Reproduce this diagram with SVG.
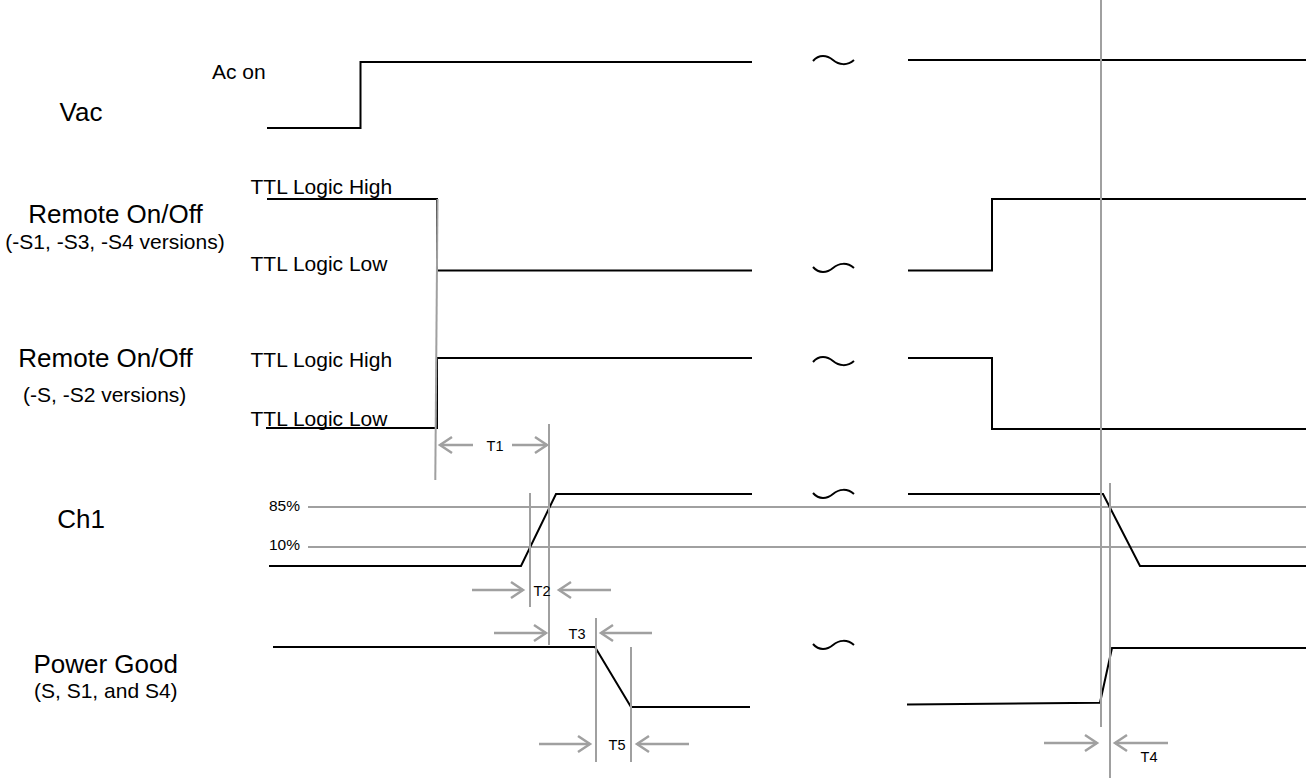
<svg xmlns="http://www.w3.org/2000/svg" width="1311" height="780" viewBox="0 0 1311 780">
  <style>
    .sig { fill: none; stroke: #000; stroke-width: 2; stroke-linejoin: miter; }
    .tl { fill: none; stroke: #000; stroke-width: 2; }
    .g { fill: none; stroke: #a0a0a0; stroke-width: 2; }
    .arr { fill: none; stroke: #a0a0a0; stroke-width: 2.5; marker-end: url(#ah); }
    text { font-family: "Liberation Sans", Arial, sans-serif; fill: #000; }
    .big { font-size: 26px; text-anchor: middle; }
    .sub { font-size: 21px; text-anchor: middle; }
    .lvl { font-size: 21px; }
    .pct { font-size: 15.5px; }
    .t { font-size: 14.5px; text-anchor: middle; }
  </style>
  <defs>
    <marker id="ah" markerUnits="userSpaceOnUse" markerWidth="16" markerHeight="20" viewBox="0 0 16 20" refX="13" refY="10" orient="auto">
      <path d="M1,2 L13,10 L1,18" fill="none" stroke="#a0a0a0" stroke-width="2.5"/>
    </marker>
    <path id="tu" d="M0,0 C6,-7 14,-6 20,-1 C26,4 34,5 41,-1"/>
    <path id="td" d="M0,0 C6,7 14,6 20,1 C26,-4 34,-5 41,1"/>
  </defs>
  <rect width="1311" height="780" fill="#fff"/>

  <!-- Vac -->
  <g id="vac">
    <text class="big" x="81" y="121">Vac</text>
    <text class="lvl" x="212" y="79">Ac on</text>
    <path class="sig" d="M267,128 H360.5 V62 H752"/>
    <use href="#tu" class="tl" x="813" y="61"/>
    <path class="sig" d="M908,60 H1306"/>
  </g>

  <!-- Remote On/Off (-S1, -S3, -S4) -->
  <g id="remote1">
    <text class="big" x="115.5" y="223">Remote On/Off</text>
    <text class="sub" x="115" y="249">(-S1, -S3, -S4 versions)</text>
    <text class="lvl" x="250.5" y="194">TTL Logic High</text>
    <text class="lvl" x="250.5" y="271">TTL Logic Low</text>
    <path class="sig" d="M267,199 H437 V270.5 H752"/>
    <use href="#td" class="tl" x="813" y="267"/>
    <path class="sig" d="M908,270.5 H992 V199 H1306"/>
  </g>

  <!-- Remote On/Off (-S, -S2) -->
  <g id="remote2">
    <text class="big" x="105.5" y="367">Remote On/Off</text>
    <text class="sub" x="104.7" y="401.5">(-S, -S2 versions)</text>
    <text class="lvl" x="250.5" y="367">TTL Logic High</text>
    <text class="lvl" x="250.5" y="426">TTL Logic Low</text>
    <path class="sig" d="M266,428 H437 V358 H752"/>
    <use href="#tu" class="tl" x="813" y="362"/>
    <path class="sig" d="M908,358 H992 V429 H1306"/>
  </g>

  <!-- Ch1 -->
  <g id="ch1">
    <text class="big" x="81" y="528">Ch1</text>
    <text class="pct" x="269" y="511">85%</text>
    <text class="pct" x="269" y="550">10%</text>
    <path class="g" d="M308,507 H1306"/>
    <path class="g" d="M308,547 H1306"/>
    <path class="sig" d="M269,566 H521 L556,494 H752"/>
    <use href="#td" class="tl" x="813" y="493"/>
    <path class="sig" d="M908,494 H1103 L1140,566 H1306"/>
  </g>

  <!-- Power Good -->
  <g id="power-good">
    <text class="big" x="105.7" y="673">Power Good</text>
    <text class="sub" x="105.8" y="698">(S, S1, and S4)</text>
    <path class="sig" d="M273,647 H595 L631,707 H750"/>
    <use href="#td" class="tl" x="813" y="644"/>
    <path class="sig" d="M907,704.5 L1100,702.7 L1112,648 H1306"/>
  </g>

  <!-- Timing markers and arrows -->
  <g id="connectors">
    <path class="g" d="M437.5,199 L435.3,480"/>
    <path class="g" d="M549,424 V645"/>
    <path class="g" d="M530,493 V607"/>
    <path class="g" d="M596,618 V762"/>
    <path class="g" d="M631,647 V762"/>
    <path class="g" d="M1101,0 V727"/>
    <path class="g" d="M1110,483 V778"/>

    <path class="arr" d="M473,445 H440"/>
    <path class="arr" d="M512,445 H547"/>
    <text class="t" x="495" y="451">T1</text>

    <path class="arr" d="M472,590 H523"/>
    <path class="arr" d="M611,590 H559"/>
    <text class="t" x="542" y="596">T2</text>

    <path class="arr" d="M494,633 H546"/>
    <path class="arr" d="M652,633 H601"/>
    <text class="t" x="577" y="639">T3</text>

    <path class="arr" d="M539,744 H590"/>
    <path class="arr" d="M689,744 H637"/>
    <text class="t" x="617" y="750">T5</text>

    <path class="arr" d="M1044,743 H1097"/>
    <path class="arr" d="M1168,743 H1115"/>
    <text class="t" x="1149" y="762">T4</text>
  </g>
</svg>
